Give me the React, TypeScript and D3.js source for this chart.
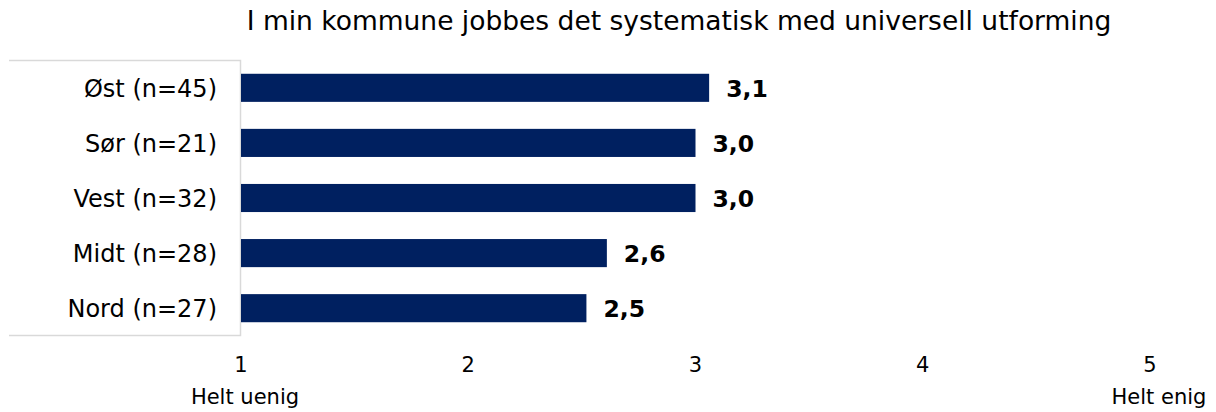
import { useEffect, useRef } from 'react';
import * as d3 from 'd3';

const WIDTH = 1216;
const HEIGHT = 412;

const TITLE = 'I min kommune jobbes det systematisk med universell utforming';
const CATEGORIES = ['Øst (n=45)', 'Sør (n=21)', 'Vest (n=32)', 'Midt (n=28)', 'Nord (n=27)'];
const VALUES = [3.06, 3.0, 3.0, 2.61, 2.52];
const VALUE_LABELS = ['3,1', '3,0', '3,0', '2,6', '2,5'];
const TICKS = [1, 2, 3, 4, 5];
const END_LABELS = ['Helt uenig', 'Helt enig'];

const FONT = '"DejaVu Sans", Verdana, sans-serif';

export default function App() {
  const svgRef = useRef<SVGSVGElement>(null);

  useEffect(() => {
    const svg = d3.select(svgRef.current);
    svg.selectAll('*').remove();

    const x = d3.scaleLinear().domain([1, 5]).range([241, 1150]);
    const y = d3.scaleBand().domain(CATEGORIES).range([60, 336]).paddingInner(0.49).paddingOuter(0.25);

    svg.append('text')
      .attr('x', 679).attr('y', 29.5)
      .attr('text-anchor', 'middle')
      .style('font-family', FONT).style('font-size', '26.5px').style('fill', '#000')
      .text(TITLE);

    // label box
    svg.append('path')
      .attr('d', 'M9,60.5 H240.5 V335.5 H9')
      .attr('fill', '#fff')
      .attr('stroke', '#d9d9d9')
      .attr('stroke-width', 1.5);

    svg.selectAll('.cat')
      .data(CATEGORIES)
      .join('text')
      .attr('x', 217)
      .attr('y', (d) => (y(d) as number) + y.bandwidth() / 2)
      .attr('dy', '0.37em')
      .attr('text-anchor', 'end')
      .style('font-family', FONT).style('font-size', '24px').style('fill', '#000')
      .text((d) => d);

    svg.selectAll('.bar')
      .data(VALUES)
      .join('rect')
      .attr('x', x(1))
      .attr('y', (_, i) => y(CATEGORIES[i]) as number)
      .attr('width', (d) => x(d) - x(1))
      .attr('height', y.bandwidth())
      .attr('fill', '#002060');

    svg.selectAll('.val')
      .data(VALUES)
      .join('text')
      .attr('x', (d) => x(d) + 17)
      .attr('y', (_, i) => (y(CATEGORIES[i]) as number) + y.bandwidth() / 2)
      .attr('dy', '0.37em')
      .style('font-family', FONT).style('font-size', '23.5px').style('font-weight', 'bold').style('fill', '#000')
      .text((_, i) => VALUE_LABELS[i]);

    svg.selectAll('.tick')
      .data(TICKS)
      .join('text')
      .attr('x', (d) => x(d))
      .attr('y', 372)
      .attr('text-anchor', 'middle')
      .style('font-family', FONT).style('font-size', '21px').style('fill', '#000')
      .text((d) => d);

    svg.append('text')
      .attr('x', 245).attr('y', 404)
      .attr('text-anchor', 'middle')
      .style('font-family', FONT).style('font-size', '21px').style('fill', '#000')
      .text(END_LABELS[0]);
    svg.append('text')
      .attr('x', 1159).attr('y', 404)
      .attr('text-anchor', 'middle')
      .style('font-family', FONT).style('font-size', '21px').style('fill', '#000')
      .text(END_LABELS[1]);
  }, []);

  return (
    <svg
      ref={svgRef}
      width={WIDTH}
      height={HEIGHT}
      viewBox={`0 0 ${WIDTH} ${HEIGHT}`}
      style={{ position: 'absolute', left: 0, top: 0, background: '#fff' }}
    />
  );
}
